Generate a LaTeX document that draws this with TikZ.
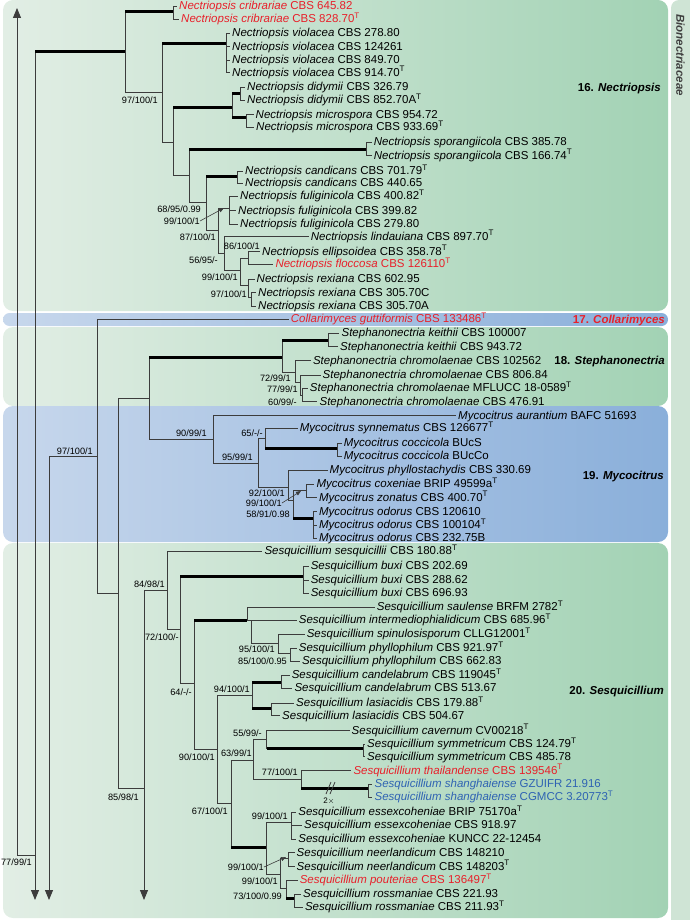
\documentclass[tikz,border=0pt]{standalone}
\usepackage{fontspec}
\setmainfont{Liberation Sans}
\usetikzlibrary{arrows.meta}
\definecolor{nred}{HTML}{E8202A}
\definecolor{nblue}{HTML}{2F63B3}
\definecolor{gleft}{HTML}{E2EEE5}
\definecolor{gright}{HTML}{A2D2B4}
\definecolor{bleft}{HTML}{C7D7EC}
\definecolor{bright}{HTML}{8AAFDA}
\definecolor{strip}{HTML}{CFE4D5}
\definecolor{lines}{HTML}{3C3C3C}
\newcommand{\taxon}[2]{\textit{#1} #2}
\newcommand{\typ}{\textsuperscript{T}}

\begin{document}
\begin{tikzpicture}
      [x=1pt,y=-1pt
    % стили подписей
      ,leaf/.style={anchor=west,inner sep=2pt,text height=7pt,text depth=0pt,font=\fontsize{11.5}{12}\selectfont}
      ,supp/.style={anchor=east,inner sep=0pt,text height=6.6pt,text depth=0pt,font=\fontsize{9.2}{10}\selectfont}
      ,clade/.style={anchor=east,inner sep=0pt,text height=8pt,text depth=0pt,font=\fontsize{11.5}{12}\selectfont\bfseries}
    % стили ветвей
      ,branch/.style={draw=lines,line width=0.9pt}
      ,heavy/.style={draw=black,line width=3pt}
      ,longarrow/.style={-{Triangle[length=10pt,width=8pt]}}
      ,ptr/.style={draw=lines,line width=0.6pt,-{Triangle[length=5pt,width=4pt]}}
      ,greenbox/.style={left color=gleft,right color=gright,rounded corners=10pt}
      ,bluebox/.style={left color=bleft,right color=bright,rounded corners=10pt}
      ]
    \useasboundingbox (0,0) rectangle (690,920);
    % фон
        \shade[greenbox] (3,0) rectangle (668,311);
        \shade[bluebox,rounded corners=6.5pt] (3,313) rectangle (668,326);
        \shade[greenbox] (3,327) rectangle (668,406);
        \shade[bluebox] (3,406) rectangle (668,542);
        \shade[greenbox] (3,543) rectangle (668,918);
        \fill[strip,rounded corners=8pt] (671,940) -- (671,0) -- (710,0) -- (710,940) -- cycle;
        \node[rotate=-90,inner sep=0pt,font=\fontsize{11.5}{12}\selectfont\bfseries\itshape,text=black!75] (fam) at (680.5,55) {Bionectriaceae};

    % названия клад
        \node[clade] (lnec) at (661,88) {16. \textit{Nectriopsis}};
        \node[clade,text=nred] (lcol) at (665,319) {17. \textit{Collarimyces}};
        \node[clade] (lste) at (665,360) {18. \textit{Stephanonectria}};
        \node[clade] (lmyc) at (664,475) {19. \textit{Mycocitrus}};
        \node[clade] (lses) at (664,690) {20. \textit{Sesquicillium}};

    % листья
        \node[leaf,text=nred] (cri1) at (177,6) {\taxon{Nectriopsis cribrariae}{CBS 645.82}};
        \node[leaf,text=nred] (cri2) at (179,19) {\taxon{Nectriopsis cribrariae}{CBS 828.70\typ}};
        \node[leaf] (vio1) at (230,33) {\taxon{Nectriopsis violacea}{CBS 278.80}};
        \node[leaf] (vio2) at (230,46.7) {\taxon{Nectriopsis violacea}{CBS 124261}};
        \node[leaf] (vio3) at (230,60) {\taxon{Nectriopsis violacea}{CBS 849.70}};
        \node[leaf] (vio4) at (230,72.7) {\taxon{Nectriopsis violacea}{CBS 914.70\typ}};
        \node[leaf] (did1) at (245,87.3) {\taxon{Nectriopsis didymii}{CBS 326.79}};
        \node[leaf] (did2) at (245,100) {\taxon{Nectriopsis didymii}{CBS 852.70A\typ}};
        \node[leaf] (mic1) at (253.5,114.7) {\taxon{Nectriopsis microspora}{CBS 954.72}};
        \node[leaf] (mic2) at (254,127.3) {\taxon{Nectriopsis microspora}{CBS 933.69\typ}};
        \node[leaf] (spo1) at (371.6,142.3) {\taxon{Nectriopsis sporangiicola}{CBS 385.78}};
        \node[leaf] (spo2) at (371.6,155.7) {\taxon{Nectriopsis sporangiicola}{CBS 166.74\typ}};
        \node[leaf] (can1) at (243,171) {\taxon{Nectriopsis candicans}{CBS 701.79\typ}};
        \node[leaf] (can2) at (243,183.3) {\taxon{Nectriopsis candicans}{CBS 440.65}};
        \node[leaf] (ful1) at (238,196.3) {\taxon{Nectriopsis fuliginicola}{CBS 400.82\typ}};
        \node[leaf] (ful2) at (236,210.7) {\taxon{Nectriopsis fuliginicola}{CBS 399.82}};
        \node[leaf] (ful3) at (238,224) {\taxon{Nectriopsis fuliginicola}{CBS 279.80}};
        \node[leaf] (lin) at (308.6,236.7) {\taxon{Nectriopsis lindauiana}{CBS 897.70\typ}};
        \node[leaf] (ell) at (260,251.7) {\taxon{Nectriopsis ellipsoidea}{CBS 358.78\typ}};
        \node[leaf,text=nred] (flo) at (273.3,264.3) {\taxon{Nectriopsis floccosa}{CBS 126110\typ}};
        \node[leaf] (rex1) at (254.5,279.3) {\taxon{Nectriopsis rexiana}{CBS 602.95}};
        \node[leaf] (rex2) at (256,292.7) {\taxon{Nectriopsis rexiana}{CBS 305.70C}};
        \node[leaf] (rex3) at (256,306) {\taxon{Nectriopsis rexiana}{CBS 305.70A}};
        \node[leaf,text=nred] (col) at (288.7,319.3) {\taxon{Collarimyces guttiformis}{CBS 133486\typ}};
        \node[leaf] (kei1) at (339.4,333.3) {\taxon{Stephanonectria keithii}{CBS 100007}};
        \node[leaf] (kei2) at (338,346.7) {\taxon{Stephanonectria keithii}{CBS 943.72}};
        \node[leaf] (chr1) at (310.8,360.7) {\taxon{Stephanonectria chromolaenae}{CBS 102562}};
        \node[leaf] (chr2) at (320.5,375) {\taxon{Stephanonectria chromolaenae}{CBS 806.84}};
        \node[leaf] (chr3) at (307.7,388.3) {\taxon{Stephanonectria chromolaenae}{MFLUCC 18-0589\typ}};
        \node[leaf] (chr4) at (317.4,401.7) {\taxon{Stephanonectria chromolaenae}{CBS 476.91}};
        \node[leaf] (aur) at (456,415.7) {\taxon{Mycocitrus aurantium}{BAFC 51693}};
        \node[leaf] (syn) at (297.6,428.3) {\taxon{Mycocitrus synnematus}{CBS 126677\typ}};
        \node[leaf] (coc1) at (341.6,443.3) {\taxon{Mycocitrus coccicola}{BUcS}};
        \node[leaf] (coc2) at (341.6,456) {\taxon{Mycocitrus coccicola}{BUcCo}};
        \node[leaf] (phy) at (327.5,470) {\taxon{Mycocitrus phyllostachydis}{CBS 330.69}};
        \node[leaf] (cox) at (314.3,484) {\taxon{Mycocitrus coxeniae}{BRIP 49599a\typ}};
        \node[leaf] (zon) at (316.9,497.7) {\taxon{Mycocitrus zonatus}{CBS 400.70\typ}};
        \node[leaf] (odo1) at (316.9,511.7) {\taxon{Mycocitrus odorus}{CBS 120610}};
        \node[leaf] (odo2) at (316.9,525) {\taxon{Mycocitrus odorus}{CBS 100104\typ}};
        \node[leaf] (odo3) at (316.9,538.3) {\taxon{Mycocitrus odorus}{CBS 232.75B}};
        \node[leaf] (ses) at (262.3,551) {\taxon{Sesquicillium sesquicillii}{CBS 180.88\typ}};
        \node[leaf] (bux1) at (308.6,566) {\taxon{Sesquicillium buxi}{CBS 202.69}};
        \node[leaf] (bux2) at (308.6,580) {\taxon{Sesquicillium buxi}{CBS 288.62}};
        \node[leaf] (bux3) at (308.6,593.3) {\taxon{Sesquicillium buxi}{CBS 696.93}};
        \node[leaf] (sau) at (374.7,607.3) {\taxon{Sesquicillium saulense}{BRFM 2782\typ}};
        \node[leaf] (int) at (296.7,620) {\taxon{Sesquicillium intermediophialidicum}{CBS 685.96\typ}};
        \node[leaf] (spi) at (304.6,634.3) {\taxon{Sesquicillium spinulosisporum}{CLLG12001\typ}};
        \node[leaf] (phl1) at (296.7,648.3) {\taxon{Sesquicillium phyllophilum}{CBS 921.97\typ}};
        \node[leaf] (phl2) at (299.8,661) {\taxon{Sesquicillium phyllophilum}{CBS 662.83}};
        \node[leaf] (cnd1) at (289.6,675) {\taxon{Sesquicillium candelabrum}{CBS 119045\typ}};
        \node[leaf] (cnd2) at (292.3,688.3) {\taxon{Sesquicillium candelabrum}{CBS 513.67}};
        \node[leaf] (las1) at (294,703.3) {\taxon{Sesquicillium lasiacidis}{CBS 179.88\typ}};
        \node[leaf] (las2) at (280,715.7) {\taxon{Sesquicillium lasiacidis}{CBS 504.67}};
        \node[leaf] (cav) at (349.5,730.7) {\taxon{Sesquicillium cavernum}{CV00218\typ}};
        \node[leaf] (sym1) at (365,744) {\taxon{Sesquicillium symmetricum}{CBS 124.79\typ}};
        \node[leaf] (sym2) at (365,756.7) {\taxon{Sesquicillium symmetricum}{CBS 485.78}};
        \node[leaf,text=nred] (tha) at (351.3,770.7) {\taxon{Sesquicillium thailandense}{CBS 139546\typ}};
        \node[leaf,text=nblue] (sha1) at (372.4,784.3) {\taxon{Sesquicillium shanghaiense}{GZUIFR 21.916}};
        \node[leaf,text=nblue] (sha2) at (372.4,797.3) {\taxon{Sesquicillium shanghaiense}{CGMCC 3.20773\typ}};
        \node[leaf] (ess1) at (296.2,812.3) {\taxon{Sesquicillium essexcoheniae}{BRIP 75170a\typ}};
        \node[leaf] (ess2) at (302,825) {\taxon{Sesquicillium essexcoheniae}{CBS 918.97}};
        \node[leaf] (ess3) at (296.2,839.3) {\taxon{Sesquicillium essexcoheniae}{KUNCC 22-12454}};
        \node[leaf] (nee1) at (294.5,852.7) {\taxon{Sesquicillium neerlandicum}{CBS 148210}};
        \node[leaf] (nee2) at (294.5,866.7) {\taxon{Sesquicillium neerlandicum}{CBS 148203\typ}};
        \node[leaf,text=nred] (pou) at (297.6,880) {\taxon{Sesquicillium pouteriae}{CBS 136497\typ}};
        \node[leaf] (ros1) at (301,894) {\taxon{Sesquicillium rossmaniae}{CBS 221.93}};
        \node[leaf] (ros2) at (302.8,907.3) {\taxon{Sesquicillium rossmaniae}{CBS 211.93\typ}};

    % внутренние узлы
        \coordinate (up) at (17,8);
        \coordinate (r1) at (35,855);
        \coordinate (r2) at (49,456);
        \coordinate (k1) at (97,456);
        \coordinate (k2) at (118,593);
        \coordinate (k3) at (144,788);
        \coordinate (end1) at (35,900);
        \coordinate (end2) at (49,900);
        \coordinate (end3) at (144,900);
        \coordinate (nec1) at (125,52);
        \coordinate (cri) at (173,12);
        \coordinate (nec2) at (162,92);
        \coordinate (vio) at (226,44);
        \coordinate (nec3) at (173,142);
        \coordinate (dm) at (232,108);
        \coordinate (did) at (240,94);
        \coordinate (mic) at (246,118);
        \coordinate (nec4) at (189,175);
        \coordinate (spo) at (366,150);
        \coordinate (nec5) at (206,202);
        \coordinate (can) at (237,177);
        \coordinate (nec6) at (218,230);
        \coordinate (ful) at (229,208);
        \coordinate (nec7) at (224,253);
        \coordinate (nec8) at (240,270);
        \coordinate (nec9) at (248,258);
        \coordinate (rex) at (248,285);
        \coordinate (rexb) at (251,297);
        \coordinate (sm) at (149,398);
        \coordinate (ste) at (282,357);
        \coordinate (kei) at (328,340);
        \coordinate (chr) at (295,372);
        \coordinate (chrb) at (300,382);
        \coordinate (chrc) at (302,395);
        \coordinate (myc) at (213,439);
        \coordinate (myc2) at (258,463);
        \coordinate (myc3) at (265,438);
        \coordinate (coc) at (337,448);
        \coordinate (myc4) at (288,487);
        \coordinate (myc5) at (293,500);
        \coordinate (cz) at (306,490);
        \coordinate (odo) at (313,518);
        \coordinate (sq1) at (167,590);
        \coordinate (sq2) at (180,629);
        \coordinate (bux) at (303,576);
        \coordinate (sq3) at (194,683);
        \coordinate (sq4) at (247,620);
        \coordinate (sq4b) at (251,620);
        \coordinate (sq4c) at (278,643);
        \coordinate (phl) at (290,653);
        \coordinate (sq5) at (217,749);
        \coordinate (cl) at (252,695);
        \coordinate (cnd) at (281,682);
        \coordinate (las) at (271,708);
        \coordinate (sq6) at (231,803);
        \coordinate (sq7) at (253,760);
        \coordinate (sq7a) at (266.5,739);
        \coordinate (sym) at (363,748);
        \coordinate (sq7b) at (301,779);
        \coordinate (sha) at (368,788);
        \coordinate (sq8) at (266.5,847);
        \coordinate (ess) at (291,822);
        \coordinate (sq9) at (280.6,874);
        \coordinate (nee) at (288.5,858);
        \coordinate (sq10) at (286,888);
        \coordinate (ros) at (294,898);

    % основание дерева
        \draw[branch,longarrow] (r1) -| (up);
        \draw[branch,longarrow] (r1 |- nec1) -- (end1);
        \draw[heavy] (r1 |- nec1) -- (nec1);
        \draw[branch,longarrow] (r2) -- (end2);
        \draw[branch] (r2) -- (k1);
        \draw[branch] (k1) |- (col.west);
        \draw[branch] (k1) |- (k2);
        \draw[branch] (k2) |- (sm);
        \draw[branch] (k2) |- (k3);
        \draw[branch,longarrow] (k3) -- (end3);
        \draw[branch] (k3) |- (sq1);

    % Nectriopsis
        \draw[branch] (nec1) |- (cri);
        \draw[heavy] (nec1 |- cri) -- (cri);
        \draw[branch] (cri) |- (cri1.west);
        \draw[branch] (cri) |- (cri2.west);
        \draw[branch] (nec1) |- (nec2);
        \draw[branch] (nec2) |- (vio);
        \draw[heavy] (nec2 |- vio) -- (vio);
        \draw[branch] (vio) |- (vio1.west);
        \draw[branch] (vio) |- (vio2.west);
        \draw[branch] (vio) |- (vio3.west);
        \draw[branch] (vio) |- (vio4.west);
        \draw[branch] (nec2) |- (nec3);
        \draw[branch] (nec3) |- (dm);
        \draw[heavy] (nec3 |- dm) -- (dm);
        \draw[branch] (dm) |- (did);
        \draw[heavy] (dm |- did) -- (did);
        \draw[branch] (did) |- (did1.west);
        \draw[branch] (did) |- (did2.west);
        \draw[branch] (dm) |- (mic);
        \draw[heavy] (dm |- mic) -- (mic);
        \draw[branch] (mic) |- (mic1.west);
        \draw[branch] (mic) |- (mic2.west);
        \draw[branch] (nec3) |- (nec4);
        \draw[branch] (nec4) |- (spo);
        \draw[heavy] (nec4 |- spo) -- (spo);
        \draw[branch] (spo) |- (spo1.west);
        \draw[branch] (spo) |- (spo2.west);
        \draw[branch] (nec4) |- (nec5);
        \draw[branch] (nec5) |- (can);
        \draw[heavy] (nec5 |- can) -- (can);
        \draw[branch] (can) |- (can1.west);
        \draw[branch] (can) |- (can2.west);
        \draw[branch] (nec5) |- (nec6);
        \draw[branch] (nec6) |- (ful);
        \draw[branch] (ful) |- (ful1.west);
        \draw[branch] (ful) |- (ful2.west);
        \draw[branch] (ful) |- (ful3.west);
        \draw[branch] (nec6) |- (nec7);
        \draw[branch] (nec7) |- (lin.west);
        \draw[branch] (nec7) |- (nec8);
        \draw[branch] (nec8) |- (nec9);
        \draw[branch] (nec9) |- (ell.west);
        \draw[branch] (nec9) |- (flo.west);
        \draw[branch] (nec8) |- (rex);
        \draw[branch] (rex) |- (rex1.west);
        \draw[branch] (rex) |- (rexb);
        \draw[branch] (rexb) |- (rex2.west);
        \draw[branch] (rexb) |- (rex3.west);

    % Stephanonectria
        \draw[branch] (sm) |- (ste);
        \draw[heavy] (sm |- ste) -- (ste);
        \draw[branch] (ste) |- (kei);
        \draw[heavy] (ste |- kei) -- (kei);
        \draw[branch] (kei) |- (kei1.west);
        \draw[branch] (kei) |- (kei2.west);
        \draw[branch] (ste) |- (chr);
        \draw[branch] (chr) |- (chr1.west);
        \draw[branch] (chr) |- (chrb);
        \draw[branch] (chrb) |- (chr2.west);
        \draw[branch] (chrb) |- (chrc);
        \draw[branch] (chrc) |- (chr3.west);
        \draw[branch] (chrc) |- (chr4.west);

    % Mycocitrus
        \draw[branch] (sm) |- (myc);
        \draw[branch] (myc) |- (aur.west);
        \draw[branch] (myc) |- (myc2);
        \draw[branch] (myc2) |- (myc3);
        \draw[branch] (myc3) |- (syn.west);
        \draw[branch] (myc3) |- (coc);
        \draw[heavy] (myc3 |- coc) -- (coc);
        \draw[branch] (coc) |- (coc1.west);
        \draw[branch] (coc) |- (coc2.west);
        \draw[branch] (myc2) |- (myc4);
        \draw[branch] (myc4) |- (phy.west);
        \draw[branch] (myc4) |- (myc5);
        \draw[branch] (myc5) |- (cz);
        \draw[branch] (cz) |- (cox.west);
        \draw[branch] (cz) |- (zon.west);
        \draw[branch] (myc5) |- (odo);
        \draw[heavy] (myc5 |- odo) -- (odo);
        \draw[branch] (odo) |- (odo1.west);
        \draw[branch] (odo) |- (odo2.west);
        \draw[branch] (odo) |- (odo3.west);

    % Sesquicillium
        \draw[branch] (sq1) |- (ses.west);
        \draw[branch] (sq1) |- (sq2);
        \draw[branch] (sq2) |- (bux);
        \draw[heavy] (sq2 |- bux) -- (bux);
        \draw[branch] (bux) |- (bux1.west);
        \draw[branch] (bux) |- (bux2.west);
        \draw[branch] (bux) |- (bux3.west);
        \draw[branch] (sq2) |- (sq3);
        \draw[branch] (sq3) |- (sq4);
        \draw[heavy] (sq3 |- sq4) -- (sq4);
        \draw[branch] (sq4) |- (sau.west);
        \draw[branch] (sq4) |- (sq4b);
        \draw[branch] (sq4b) |- (int.west);
        \draw[branch] (sq4b) |- (sq4c);
        \draw[branch] (sq4c) |- (spi.west);
        \draw[branch] (sq4c) |- (phl);
        \draw[branch] (phl) |- (phl1.west);
        \draw[branch] (phl) |- (phl2.west);
        \draw[branch] (sq3) |- (sq5);
        \draw[branch] (sq5) |- (cl);
        \draw[branch] (cl) |- (cnd);
        \draw[heavy] (cl |- cnd) -- (cnd);
        \draw[branch] (cnd) |- (cnd1.west);
        \draw[branch] (cnd) |- (cnd2.west);
        \draw[branch] (cl) |- (las);
        \draw[heavy] (cl |- las) -- (las);
        \draw[branch] (las) |- (las1.west);
        \draw[branch] (las) |- (las2.west);
        \draw[branch] (sq5) |- (sq6);
        \draw[branch] (sq6) |- (sq7);
        \draw[branch] (sq7) |- (sq7a);
        \draw[branch] (sq7a) |- (cav.west);
        \draw[branch] (sq7a) |- (sym);
        \draw[heavy] (sq7a |- sym) -- (sym);
        \draw[branch] (sym) |- (sym1.west);
        \draw[branch] (sym) |- (sym2.west);
        \draw[branch] (sq7) |- (sq7b);
        \draw[branch] (sq7b) |- (tha.west);
        \draw[branch] (sq7b) |- (sha);
        \draw[heavy] (sq7b |- sha) -- (sha);
        \draw[branch] (sha) |- (sha1.west);
        \draw[branch] (sha) |- (sha2.west);
        \draw[branch] (sq6) |- (sq8);
        \draw[heavy] (sq6 |- sq8) -- (sq8);
        \draw[branch] (sq8) |- (ess);
        \draw[branch] (ess) |- (ess1.west);
        \draw[branch] (ess) |- (ess2.west);
        \draw[branch] (ess) |- (ess3.west);
        \draw[branch] (sq8) |- (sq9);
        \draw[branch] (sq9) |- (nee);
        \draw[branch] (nee) |- (nee1.west);
        \draw[branch] (nee) |- (nee2.west);
        \draw[branch] (sq9) |- (sq10);
        \draw[branch] (sq10) |- (pou.west);
        \draw[branch] (sq10) |- (ros);
        \draw[heavy] (sq10 |- ros) -- (ros);
        \draw[branch] (ros) |- (ros1.west);
        \draw[branch] (ros) |- (ros2.west);

    % разрыв ветви
        \draw[lines,line width=0.8pt] (326,794) -- (331,782) (330,794) -- (335,782);
        \node[inner sep=0pt,font=\fontsize{8}{8}\selectfont] (brk) at (329,801) {2$\times$};

    % поддержки
        \node[supp] (s01) at (158,100) {97/100/1};
        \node[supp] (s02) at (201,209) {68/95/0.99};
        \node[supp] (s03) at (200,221) {99/100/1};
        \node[supp] (s04) at (216,237) {87/100/1};
        \node[supp] (s05) at (260,246) {86/100/1};
        \node[supp] (s06) at (218,260) {56/95/-};
        \node[supp] (s07) at (238,277) {99/100/1};
        \node[supp] (s08) at (247,294) {97/100/1};
        \node[supp] (s09) at (93,451) {97/100/1};
        \node[supp] (s10) at (139,797) {85/98/1};
        \node[supp] (s11) at (165,584) {84/98/1};
        \node[supp] (s12) at (32,862) {77/99/1};
        \node[supp] (s13) at (207,433) {90/99/1};
        \node[supp] (s14) at (291,378) {72/99/1};
        \node[supp] (s15) at (298,389) {77/99/1};
        \node[supp] (s16) at (297,402) {60/99/-};
        \node[supp] (s17) at (253,457) {95/99/1};
        \node[supp] (s18) at (263,433) {65/-/-};
        \node[supp] (s19) at (285,493) {92/100/1};
        \node[supp] (s20) at (282,503) {99/100/1};
        \node[supp] (s21) at (290,514) {58/91/0.98};
        \node[supp] (s22) at (179,637) {72/100/-};
        \node[supp] (s23) at (192,692) {64/-/-};
        \node[supp] (s24) at (275,649) {95/100/1};
        \node[supp] (s25) at (287,661) {85/100/0.95};
        \node[supp] (s26) at (250,689) {94/100/1};
        \node[supp] (s27) at (215,757) {90/100/1};
        \node[supp] (s28) at (262,733) {55/99/-};
        \node[supp] (s29) at (252,753) {63/99/1};
        \node[supp] (s30) at (298,772) {77/100/1};
        \node[supp] (s31) at (228,811) {67/100/1};
        \node[supp] (s32) at (288,816) {99/100/1};
        \node[supp] (s33) at (264,867) {99/100/1};
        \node[supp] (s34) at (278,881) {99/100/1};
        \node[supp] (s35) at (282,896) {73/100/0.99};

    % стрелки-указатели
        \coordinate (fulpt) at (224,208);
        \coordinate (czpt) at (301,491);
        \coordinate (neept) at (286,857);
        \draw[ptr] (s03.east) -- (fulpt);
        \draw[ptr] (s20.east) -- (czpt);
        \draw[ptr] (s33.east) -- (neept);
       \end{tikzpicture}
\end{document}
